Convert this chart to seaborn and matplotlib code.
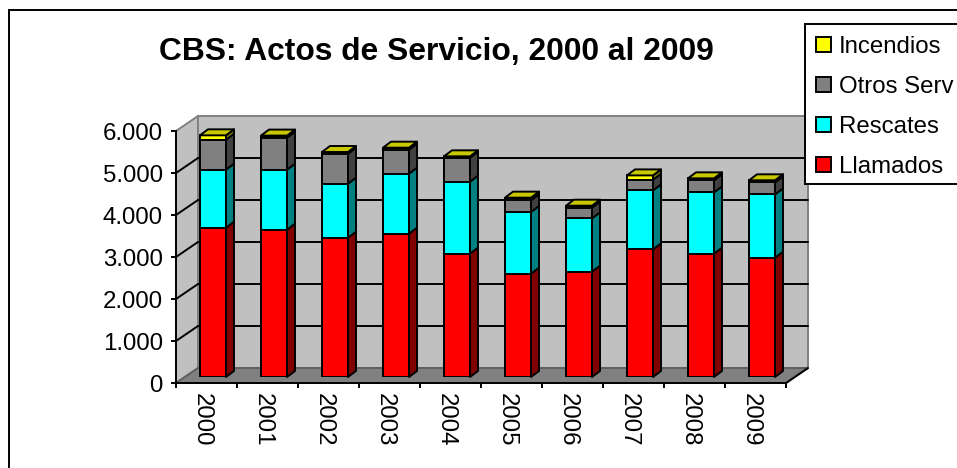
import numpy as np
import seaborn as sns
import matplotlib.pyplot as plt
from matplotlib.patches import Patch, Rectangle
from matplotlib.transforms import ScaledTranslation

anios = ['2000', '2001', '2002', '2003', '2004', '2005', '2006', '2007', '2008', '2009']
llamados = [3556, 3508, 3317, 3413, 2937, 2460, 2508, 3040, 2937, 2841]
rescates = [1381, 1429, 1286, 1428, 1714, 1469, 1270, 1404, 1460, 1508]
otros_serv = [714, 761, 714, 572, 571, 277, 254, 254, 286, 286]
incendios = [103, 50, 40, 47, 32, 64, 47, 102, 47, 48]
yticks = [0, 1000, 2000, 3000, 4000, 5000, 6000]
ylabels = ['0', '1.000', '2.000', '3.000', '4.000', '5.000', '6.000']

series = [('Llamados', llamados, '#ff0000', '#800000'),
          ('Rescates', rescates, '#00ffff', '#008080'),
          ('Otros Serv', otros_serv, '#808080', '#404040'),
          ('Incendios', incendios, '#ffff00', '#808000')]

sns.set_theme(style='white')
plt.rcParams['font.family'] = ['Liberation Sans', 'DejaVu Sans']
plt.rcParams['text.color'] = 'black'
plt.rcParams['xtick.labelcolor'] = 'black'
plt.rcParams['ytick.labelcolor'] = 'black'

W, H = 957, 468
LW = 1.4
fig = plt.figure(figsize=(W / 100, H / 100), dpi=100)
fig.patch.set_facecolor('white')

# marco del grafico, se sale por abajo y por la derecha
fig.add_artist(Rectangle((8.5 / W, 1 - 10 / H - 1), 2, 1, transform=fig.transFigure,
                         fill=False, edgecolor='black', linewidth=LW))

# plano frontal
x0, y0, ancho, alto = 176, 383, 610, 252
ax = fig.add_axes([x0 / W, (H - y0) / H, ancho / W, alto / H])
ax.set_xlim(-0.5, 9.5)
ax.set_ylim(0, 6000)
ax.patch.set_alpha(0)

px_x = 10 / ancho
px_y = 6000 / alto
fx, fy = 22 * px_x, 15 * px_y  # profundidad del piso

# paredes y piso
ax.fill([-0.5, -0.5 + fx, -0.5 + fx, -0.5], [0, fy, 6000 + fy, 6000], facecolor='#c0c0c0',
        edgecolor='#808080', linewidth=LW, clip_on=False, zorder=1)
ax.fill([-0.5 + fx, 9.5 + fx, 9.5 + fx, -0.5 + fx], [fy, fy, 6000 + fy, 6000 + fy], facecolor='#c0c0c0',
        edgecolor='#808080', linewidth=LW, clip_on=False, zorder=1)
ax.fill([-0.5, -0.5 + fx, 9.5 + fx, 9.5], [0, fy, fy, 0], facecolor='#808080',
        edgecolor='#606060', linewidth=LW, clip_on=False, zorder=2)
ax.plot([9.5, 9.5 + fx], [0, fy], color='black', linewidth=LW, clip_on=False, zorder=3)

# lineas de division
for t in yticks[1:-1]:
    ax.plot([-0.5, -0.5 + fx, 9.5 + fx], [t, t + fy, t + fy], color='black', linewidth=LW,
            clip_on=False, zorder=3, solid_joinstyle='miter')

ax.set_yticks(yticks, labels=ylabels)
ax.set_xticks(np.arange(10), labels=anios, rotation=270)
ax.set_xticks(np.arange(11) - 0.5, minor=True)
ax.tick_params(axis='x', which='major', length=0, pad=7, labelsize=17.3)
ax.tick_params(axis='x', which='minor', length=3.6, width=LW, color='black', bottom=True)
ax.tick_params(axis='y', length=3.6, width=LW, color='black', left=True, pad=5.8, labelsize=17.3)
corrimiento = ScaledTranslation(-5 / 100, 0, fig.dpi_scale_trans)
for lab in ax.get_xticklabels():
    lab.set_horizontalalignment('center')
    lab.set_transform(lab.get_transform() + corrimiento)
for lado in ['top', 'right']:
    ax.spines[lado].set_visible(False)
for lado in ['left', 'bottom']:
    ax.spines[lado].set_color('black')
    ax.spines[lado].set_linewidth(LW)
    ax.spines[lado].set_zorder(5)

# plano de las barras, corrido hacia el fondo
ax_b = fig.add_axes([(x0 + 6.5) / W, (H - y0 + 6) / H, ancho / W, alto / H])
ax_b.patch.set_alpha(0)
acum = np.cumsum([s[1] for s in series], axis=0)
ANCHO_BARRA = 26 / 61

# de la mas alta a la mas baja para que se vea apilado
for i in range(3, -1, -1):
    sns.barplot(x=anios, y=acum[i], order=anios, color=series[i][2], saturation=1,
                width=ANCHO_BARRA, edgecolor='black', linewidth=LW, ax=ax_b)
ax_b.set_xlim(-0.5, 9.5)
ax_b.set_ylim(0, 6000)
ax_b.axis('off')

# caras laterales y tapa
bx, by = 8 * px_x, 6 * px_y
for k in range(len(anios)):
    der = k + ANCHO_BARRA / 2
    izq = k - ANCHO_BARRA / 2
    base = 0
    for i, s in enumerate(series):
        tope = acum[i][k]
        ax_b.fill([der, der + bx, der + bx, der], [base, base + by, tope + by, tope], facecolor=s[3],
                  edgecolor='black', linewidth=LW, clip_on=False, joinstyle='round')
        base = tope
    ax_b.fill([izq, izq + bx, der + bx, der], [base, base + by, base + by, base], facecolor='#c8c800',
              edgecolor='black', linewidth=LW, clip_on=False, joinstyle='round')

fig.text(436 / W, 1 - 52 / H, 'CBS: Actos de Servicio, 2000 al 2009', fontsize=22.9, fontweight='bold',
         ha='center', va='center', color='black')

# caja de la leyenda, sin borde derecho visible
fig.add_artist(Rectangle((805 / W, 1 - 184 / H), 1, 160 / H, transform=fig.transFigure,
                         facecolor='white', edgecolor='black', linewidth=LW, zorder=9))
handles = [Patch(facecolor=s[2], edgecolor='black', linewidth=LW, label=s[0]) for s in series[::-1]]
leg = fig.legend(handles=handles, loc='upper left', bbox_to_anchor=(805 / W, 1 - 25 / H), borderaxespad=0,
                 fontsize=17.3, frameon=False, handlelength=0.62, handleheight=0.62,
                 handletextpad=0.33, labelspacing=0.75, borderpad=0.45, labelcolor='black')
leg.set_zorder(10)

fig.savefig('out.png', dpi=100)
